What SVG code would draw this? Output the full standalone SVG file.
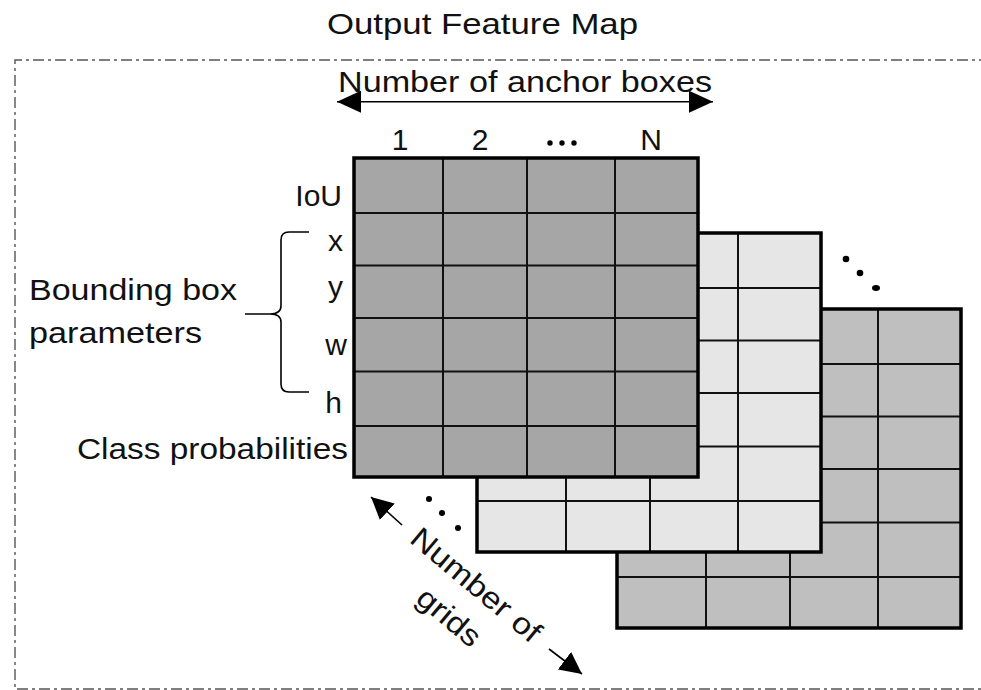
<svg xmlns="http://www.w3.org/2000/svg" xmlns:xlink="http://www.w3.org/1999/xlink" width="981" height="690" viewBox="0 0 981 690">
<style>
text{font-family:"Liberation Sans",Arial,sans-serif;font-size:30px;fill:#111}
.inner{fill:none;stroke:#111;stroke-width:2}
.outer{fill:none;stroke:#000;stroke-width:3.5}
.ln{stroke:#000;stroke-width:1.6;fill:none}
.dot{fill:#000}
</style>
<defs>
<path id="gl" class="inner" d="M89,0V319M173,0V319M261,0V319M0,55H344M0,107.5H344M0,160H344M0,213.5H344M0,268H344"/>
<marker id="ah" viewBox="0 0 24 22" refX="24" refY="11" markerWidth="24" markerHeight="22" markerUnits="userSpaceOnUse" orient="auto-start-reverse"><path d="M0,0L24,11L0,22z" fill="#000"/></marker>
<marker id="ah2" viewBox="0 0 22 22" refX="22" refY="11" markerWidth="22" markerHeight="22" markerUnits="userSpaceOnUse" orient="auto"><path d="M0,0L22,11L0,22z" fill="#000"/></marker>
</defs>
<rect width="981" height="690" fill="#fff"/>
<g id="frame">
<path d="M990,60H15V689H990" fill="none" stroke="#555" stroke-width="1.4" stroke-dasharray="11 4 3 4"/>
<text x="327" y="34" textLength="311" lengthAdjust="spacingAndGlyphs">Output Feature Map</text>
</g>
<g id="grid-back" transform="translate(617,309)">
<rect width="344" height="319" fill="#bfbfbf"/><use xlink:href="#gl"/><rect class="outer" width="344" height="319"/>
</g>
<g id="grid-middle" transform="translate(477,233)">
<rect width="344" height="319" fill="#e6e6e6"/><use xlink:href="#gl"/><rect class="outer" width="344" height="319"/>
</g>
<g id="grid-front" transform="translate(354,158)">
<rect width="344" height="319" fill="#a6a6a6"/><use xlink:href="#gl"/><rect class="outer" width="344" height="319"/>
</g>
<g id="ellipsis-stack">
<circle class="dot" cx="846" cy="259" r="3.3"/><circle class="dot" cx="860" cy="273" r="3.3"/><ellipse class="dot" cx="876" cy="288" rx="4" ry="3"/>
<circle class="dot" cx="429" cy="499" r="3"/><circle class="dot" cx="442" cy="513" r="3"/><circle class="dot" cx="458" cy="528" r="3"/>
</g>
<g id="label-anchor">
<text x="338" y="92" textLength="374" lengthAdjust="spacingAndGlyphs">Number of anchor boxes</text>
<text x="400" y="150" text-anchor="middle">1</text>
<text x="480" y="150" text-anchor="middle">2</text>
<circle class="dot" cx="550" cy="143" r="2.7"/><circle class="dot" cx="562" cy="143" r="2.7"/><circle class="dot" cx="574" cy="143" r="2.7"/>
<text x="651" y="150" text-anchor="middle">N</text>
</g>
<g id="label-rows" text-anchor="end">
<text x="342" y="206">IoU</text>
<text x="343" y="251">x</text>
<text x="343" y="297">y</text>
<text x="347" y="355">w</text>
<text x="342" y="413">h</text>
<text x="348" y="459" textLength="271" lengthAdjust="spacingAndGlyphs">Class probabilities</text>
</g>
<g id="label-bbox">
<text x="29" y="300" textLength="208" lengthAdjust="spacingAndGlyphs">Bounding box</text>
<text x="29" y="343" textLength="173" lengthAdjust="spacingAndGlyphs">parameters</text>
</g>
<g id="label-grids" transform="translate(476,585) rotate(40)">
<text x="0" y="10" text-anchor="middle" textLength="160" lengthAdjust="spacingAndGlyphs">Number of</text>
<text x="0" y="52" text-anchor="middle" textLength="74" lengthAdjust="spacingAndGlyphs">grids</text>
</g>
<g id="connectors">
<line class="ln" x1="337" y1="101.7" x2="713" y2="101.7" marker-start="url(#ah)" marker-end="url(#ah)"/>
<line class="ln" x1="402" y1="525" x2="371" y2="497" marker-end="url(#ah2)"/>
<line class="ln" x1="549" y1="649" x2="582" y2="674" marker-end="url(#ah2)"/>
<path class="ln" stroke="#333" d="M309,232H289Q281,232 281,240V306Q281,314 270,314H245M270,314Q281,314 281,322V384Q281,392 289,392H309"/>
</g>
</svg>
